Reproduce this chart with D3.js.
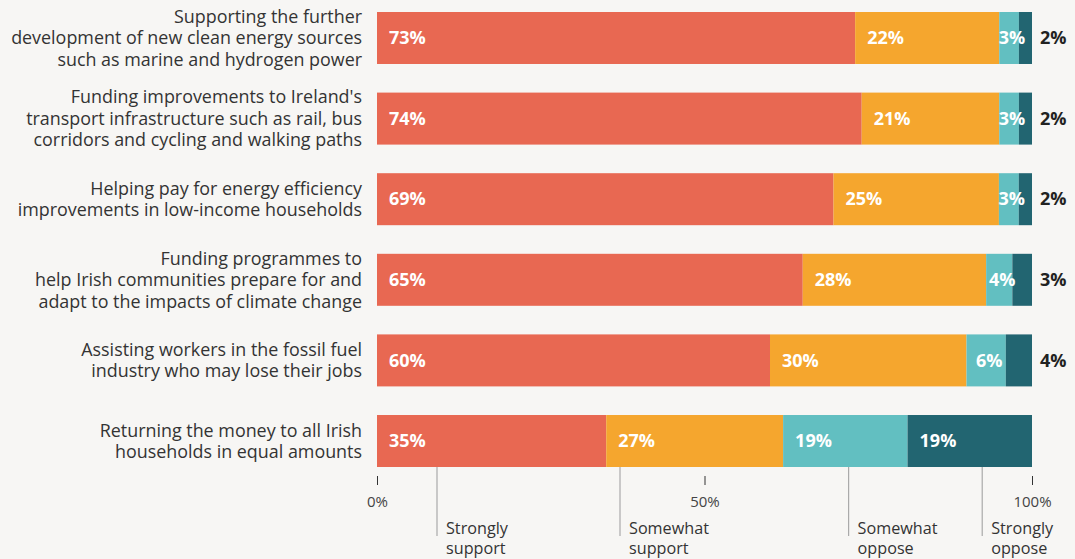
<!DOCTYPE html>
<html>
<head>
<meta charset="utf-8">
<script src="https://cdn.jsdelivr.net/npm/d3@7/dist/d3.min.js"></script>
<style>
  html, body { margin: 0; padding: 0; background: #F7F6F4; }
  svg { display: block; font-family: "Open Sans", sans-serif; }
</style>
</head>
<body>
<svg id="chart" width="1075" height="559"></svg>
<script>
// ---- data ----
const categories = [
  "Supporting the further|development of new clean energy sources|such as marine and hydrogen power",
  "Funding improvements to Ireland's|transport infrastructure such as rail, bus|corridors and cycling and walking paths",
  "Helping pay for energy efficiency|improvements in low-income households",
  "Funding programmes to|help Irish communities prepare for and|adapt to the impacts of climate change",
  "Assisting workers in the fossil fuel|industry who may lose their jobs",
  "Returning the money to all Irish|households in equal amounts"
];
const seriesNames = ["Strongly support", "Somewhat support", "Somewhat oppose", "Strongly oppose"];
const stronglySupport = [73, 74, 69, 65, 60, 35];
const somewhatSupport = [22, 21, 25, 28, 30, 27];
const somewhatOppose  = [3, 3, 3, 4, 6, 19];
const stronglyOppose  = [2, 2, 2, 3, 4, 19];
const xTicks = [0, 0.5, 1];
const xTickLabels = ["0%", "50%", "100%"];
const legendLabels = [["Strongly", "support"], ["Somewhat", "support"], ["Somewhat", "oppose"], ["Strongly", "oppose"]];

// ---- build table ----
const seriesArrays = [stronglySupport, somewhatSupport, somewhatOppose, stronglyOppose];
const table = categories.map((c, i) => {
  const row = { category: c };
  seriesNames.forEach((s, j) => row[s] = seriesArrays[j][i]);
  return row;
});

const colors = ["#E86852", "#F5A62E", "#62BFC1", "#226571"];
const svg = d3.select("#chart");

const x = d3.scaleLinear().domain([0, 1]).range([377, 1032]);
const y = d3.scaleBand().domain(categories).range([12, 467]).paddingInner(0.355).paddingOuter(0);

const stack = d3.stack().keys(seriesNames).offset(d3.stackOffsetExpand);
const stacked = stack(table);

const g = svg.append("g");
const layers = g.selectAll("g.layer").data(stacked).join("g")
  .attr("class", "layer")
  .attr("fill", (d, i) => colors[i]);

layers.selectAll("rect").data(d => d.map(v => Object.assign(v, { key: d.key }))).join("rect")
  .attr("x", d => x(d[0]))
  .attr("width", d => x(d[1]) - x(d[0]))
  .attr("y", d => y(d.data.category))
  .attr("height", y.bandwidth());

// value labels
stacked.forEach((layer, si) => {
  layer.forEach(d => {
    const val = d.data[layer.key];
    const x0 = x(d[0]), x1 = x(d[1]);
    const w = x1 - x0;
    const cy = y(d.data.category) + y.bandwidth() / 2;
    const t = g.append("text")
      .attr("y", cy)
      .attr("dy", "0.35em")
      .attr("font-weight", 700)
      .attr("font-size", 18)
      .text(val + "%");
    if (si === seriesNames.length - 1 && w < 40) {
      t.attr("x", 1040).attr("fill", "#222");
    } else {
      t.attr("fill", "#fff");
      if (w >= 60) {
        t.attr("x", x0 + 12);
      } else {
        t.attr("x", (x0 + x1) / 2 + 3).attr("text-anchor", "middle");
      }
    }
  });
});

// category labels
categories.forEach(c => {
  const lines = c.split("|");
  const cy = y(c) + y.bandwidth() / 2;
  const lh = 21.5;
  const t = svg.append("text")
    .attr("text-anchor", "end")
    .attr("font-size", 17.9)
    .attr("fill", "#333");
  lines.forEach((ln, i) => {
    t.append("tspan")
      .attr("x", 362)
      .attr("y", cy + (i - (lines.length - 1) / 2) * lh)
      .attr("dy", "0.35em")
      .text(ln);
  });
});

// axis
const axis = d3.axisBottom(x).tickValues(xTicks).tickFormat((d, i) => xTickLabels[i]).tickSize(9).tickPadding(11);
const ax = svg.append("g").attr("transform", "translate(0,476)").call(axis);
ax.select(".domain").remove();
ax.selectAll(".tick line").attr("stroke", "#333");
ax.selectAll(".tick text").attr("font-size", 15).attr("fill", "#444").attr("font-family", "Open Sans, sans-serif");

// legend (annotation lines below the chart)
const legendPos = [0.0916, 0.371, 0.72, 0.924];
legendLabels.forEach((lab, i) => {
  const lx = x(legendPos[i]);
  svg.append("line")
    .attr("x1", lx).attr("x2", lx)
    .attr("y1", 467).attr("y2", 536)
    .attr("stroke", "#aaa").attr("stroke-width", 1.2);
  const t = svg.append("text").attr("font-size", 16.2).attr("fill", "#333");
  lab.forEach((ln, j) => {
    t.append("tspan").attr("x", lx + 9).attr("y", 534 + j * 20).text(ln);
  });
});
</script>
</body>
</html>
